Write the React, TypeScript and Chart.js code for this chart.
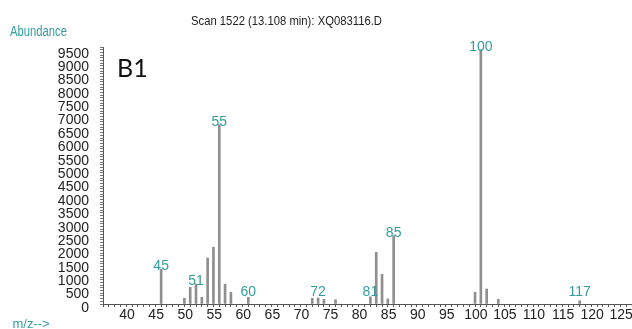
import React, { useEffect, useRef } from 'react';
import { Chart, registerables } from 'chart.js';

Chart.register(...registerables);

// ---- data ----
const mzValues = [45, 49, 50, 51, 52, 53, 54, 55, 56, 57, 60, 71, 72, 73, 75, 81, 82, 83, 84, 85, 99, 100, 101, 103, 117];
const abundances = [1300, 215, 625, 750, 250, 1720, 2120, 6700, 740, 440, 250, 215, 225, 175, 160, 270, 1930, 1110, 190, 2550, 440, 9500, 560, 175, 120];
const labeledPeaks = [45, 51, 55, 60, 72, 81, 85, 100, 117];
const xMin = 35;
const xMax = 126;
const xFirstLabel = 40;
const yMax = 9600;
const xTickStep = 1;
const xLabelEvery = 5;
const yTickStep = 100;
const yLabelEvery = 500;

const titleText = 'Scan 1522 (13.108 min): XQ083116.D';
const yAxisTitle = 'Abundance';
const xAxisTitle = 'm/z-->';
const sampleLabel = 'B1';

const TEAL = '#339c9c';
const FONT = '"Liberation Sans", Arial, sans-serif';

function drawText(
  ctx: CanvasRenderingContext2D,
  text: string,
  x: number,
  y: number,
  font: string,
  color: string,
  align: 'left' | 'center',
  targetWidth?: number
) {
  ctx.save();
  ctx.font = font;
  ctx.fillStyle = color;
  ctx.textBaseline = 'middle';
  ctx.textAlign = 'left';
  const w = ctx.measureText(text).width;
  const sx = targetWidth ? targetWidth / w : 1;
  const drawnW = w * sx;
  const left = align === 'center' ? x - drawnW / 2 : x;
  ctx.translate(left, y);
  ctx.scale(sx, 1);
  ctx.fillText(text, 0, 0);
  ctx.restore();
}

export default function App() {
  const ref = useRef<HTMLCanvasElement>(null);

  useEffect(() => {
    const canvas = ref.current;
    if (!canvas) return;

    const annotPlugin = {
      id: 'annot',
      afterDatasetsDraw(chart: any) {
        const ctx = chart.ctx as CanvasRenderingContext2D;
        const meta = chart.getDatasetMeta(0);
        const yBase = chart.scales.y.getPixelForValue(0);
        ctx.save();
        ctx.font = `14px ${FONT}`;
        ctx.fillStyle = TEAL;
        ctx.textAlign = 'center';
        ctx.textBaseline = 'alphabetic';
        meta.data.forEach((el: any, i: number) => {
          if (!labeledPeaks.includes(mzValues[i])) return;
          const yy = Math.min(el.y + 1, yBase - 8);
          ctx.fillText(String(mzValues[i]), el.x, yy);
        });
        ctx.restore();
      },
      afterDraw(chart: any) {
        const ctx = chart.ctx as CanvasRenderingContext2D;
        drawText(ctx, titleText, 286.5, 21.5, `13.5px ${FONT}`, '#222', 'center', 191);
        drawText(ctx, yAxisTitle, 10, 32.5, `14px ${FONT}`, TEAL, 'left', 57);
        drawText(ctx, xAxisTitle, 12.5, 324, `13px ${FONT}`, TEAL, 'left');
        ctx.save();
        ctx.font = `25px Lato, "Open Sans", sans-serif`;
        ctx.fillStyle = '#111';
        ctx.textBaseline = 'alphabetic';
        ctx.textAlign = 'left';
        ctx.fillText(sampleLabel, 117, 76.5);
        ctx.restore();
      },
    };

    const chart = new Chart(canvas, {
      type: 'bar',
      data: {
        datasets: [
          {
            data: mzValues.map((x, i) => ({ x, y: abundances[i] })),
            backgroundColor: '#8f8f8f',
            borderWidth: 0,
            barThickness: 2,
          } as any,
        ],
      },
      options: {
        responsive: false,
        animation: false,
        devicePixelRatio: 1,
        layout: { padding: { top: 47, left: 0, right: 0, bottom: 0 } },
        plugins: {
          legend: { display: false },
          tooltip: { enabled: false },
          title: { display: false },
        },
        scales: {
          x: {
            type: 'linear',
            min: xMin,
            max: xMax,
            offset: false,
            grid: {
              display: true,
              drawOnChartArea: false,
              drawTicks: true,
              tickLength: 3,
              tickColor: '#555',
              offset: false,
            },
            border: { display: true, color: '#555', width: 1 },
            ticks: {
              stepSize: xTickStep,
              autoSkip: false,
              maxRotation: 0,
              minRotation: 0,
              padding: 0,
              labelOffset: -5,
              color: '#222',
              font: { size: 14, family: FONT },
              callback: (v: any) =>
                Number(v) % xLabelEvery === 0 && Number(v) >= xFirstLabel ? String(v) : '',
            },
            afterFit(s: any) {
              s.height = 25;
              s.paddingLeft = 0;
              s.paddingRight = 0;
            },
          },
          y: {
            type: 'linear',
            min: 0,
            max: yMax,
            grid: {
              display: true,
              drawOnChartArea: false,
              drawTicks: true,
              tickLength: 3,
              tickColor: '#777',
            },
            border: { display: true, color: '#555', width: 1 },
            ticks: {
              stepSize: yTickStep,
              autoSkip: false,
              padding: 11,
              labelOffset: 4,
              color: '#222',
              font: { size: 14, family: FONT },
              callback: (v: any) => (Number(v) % yLabelEvery === 0 ? String(v) : ''),
            },
            afterFit(s: any) {
              s.width = 103;
              s.paddingTop = 0;
              s.paddingBottom = 0;
            },
          },
        },
      } as any,
      plugins: [annotPlugin],
    });

    return () => chart.destroy();
  }, []);

  return (
    <div style={{ position: 'fixed', left: 0, top: 0, width: 632, height: 329, background: '#fff' }}>
      <canvas ref={ref} width={632} height={329} style={{ display: 'block', width: 632, height: 329 }} />
    </div>
  );
}
